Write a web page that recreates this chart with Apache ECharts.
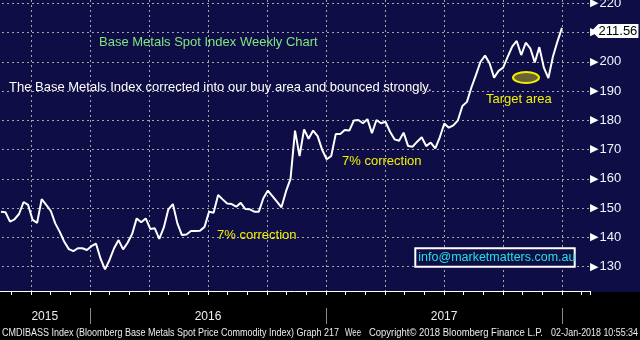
<!DOCTYPE html>
<html>
<head>
<meta charset="utf-8">
<script src="https://cdn.jsdelivr.net/npm/echarts@6/dist/echarts.min.js"></script>
<style>
html,body{margin:0;padding:0;background:#000;}
#c{width:640px;height:340px;}
</style>
</head>
<body>
<div id="c"></div>
<script>
// Weekly closes of the Bloomberg Base Metals Spot Index (mid-Aug 2015 .. 2 Jan 2018)
const indexValues = [
  148.8,148.6,145.4,146.2,148.0,152.1,151.1,146.0,145.0,153.1,151.1,149.1,144.8,141.9,138.5,136.0,135.3,
  136.3,136.3,135.7,137.0,137.9,132.8,129.1,132.3,136.3,139.1,135.9,138.2,141.2,146.5,145.2,146.5,142.9,
  143.1,139.5,143.4,149.6,151.4,144.8,140.8,141.0,142.2,142.2,142.3,143.6,148.8,148.4,154.5,153.0,151.6,
  151.4,150.5,151.8,149.7,149.6,148.8,148.8,153.4,156.0,154.1,152.2,150.3,155.7,160.0,176.5,167.8,176.9,
  173.7,176.5,174.6,169.9,166.7,167.8,175.3,175.3,176.7,176.5,179.9,180.1,179.0,180.4,175.6,180.1,179.0,
  179.5,176.1,173.5,173.0,175.8,171.2,171.0,172.7,174.2,171.2,172.4,170.4,174.2,
  178.9,177.5,178.3,180.0,184.9,186.3,191.3,195.5,200.0,202.1,199.5,194.6,196.9,198.0,201.7,205.2,207.1,
  202.3,206.5,204.6,199.8,205.0,198.0,194.4,201.7,206.9,211.56
];
// weeks after 1 Jul 2015 of the first weekly close
const firstWeek = 6.4;
const lastValue = 211.56;
// x axis: months after 1 Jul 2015
const monthAxisMax = 31.42;
const weekAxisMax = 136.6;
const yearLabels = ['2015', '2016', '2017'];
const yearLabelMonths = [3.7, 12, 24];
const yearBoundaryMonths = [6, 18, 30];
const yMin = 121.7, yMax = 221.1;

const NAVY = '#0f0d45';
const GRID = '#a6a6a6';
const FONT = '"Liberation Sans", Arial, sans-serif';

const mctx = document.createElement('canvas').getContext('2d');
function fitText(text, x, w, y) {
  const font = '10px ' + FONT;
  mctx.font = font;
  const m = mctx.measureText(text).width || w;
  return {type: 'text', x: x, y: y, scaleX: w / m, z: 100,
    style: {text: text, font: font, fill: '#ececec', verticalAlign: 'middle'}};
}
function label(text, x, y, fill, size) {
  return {type: 'text', x: x, y: y, z: 100,
    style: {text: text, font: (size || 13) + 'px ' + FONT, fill: fill, verticalAlign: 'middle'}};
}

const chart = echarts.init(document.getElementById('c'), null, {renderer: 'canvas'});
chart.setOption({
  animation: false,
  backgroundColor: {
    type: 'linear', x: 0, y: 0, x2: 0, y2: 1,
    colorStops: [
      {offset: 0, color: NAVY},
      {offset: 292 / 340, color: NAVY},
      {offset: 292 / 340, color: '#000'},
      {offset: 1, color: '#000'}
    ]
  },
  grid: {left: -28, right: 50, top: 0, bottom: 49, containLabel: false, outerBoundsMode: 'none'},
  xAxis: [
    {type: 'value', position: 'top', min: 0, max: weekAxisMax, show: false,
     splitLine: {show: false}, axisLine: {show: false}, axisTick: {show: false}, axisLabel: {show: false}},
    {type: 'value', position: 'bottom', min: 0, max: monthAxisMax, interval: 3,
     axisLine: {show: true, onZero: false, lineStyle: {color: '#fff', width: 1}},
     axisTick: {show: true, length: 4, lineStyle: {color: '#fff'}},
     minorTick: {show: true, splitNumber: 3, length: 4, lineStyle: {color: '#fff'}},
     axisLabel: {show: false},
     splitLine: {show: true, showMinLine: false, showMaxLine: false, lineStyle: {color: GRID, width: 1, type: [2, 3]}}},
    {type: 'value', position: 'bottom', offset: 17, min: 0, max: monthAxisMax,
     axisLine: {show: false, onZero: false},
     axisTick: {show: true, customValues: yearBoundaryMonths, length: 16, lineStyle: {color: '#8a8a8a'}},
     axisLabel: {show: true, customValues: yearLabelMonths, margin: 3, color: '#eeeeee', fontSize: 12, fontFamily: FONT,
       formatter: function (v) {
         for (let i = 0; i < yearLabelMonths.length; i++) if (Math.abs(yearLabelMonths[i] - v) < 0.01) return yearLabels[i];
         return '';
       }},
     splitLine: {show: false}}
  ],
  yAxis: {
    type: 'value', position: 'right', min: yMin, max: yMax, splitNumber: 10,
    axisLine: {show: true, lineStyle: {color: '#fff', width: 1}},
    axisTick: {show: false},
    minorTick: {show: true, splitNumber: 2, length: 4, lineStyle: {color: '#fff'}},
    axisLabel: {
      margin: 0, showMinLabel: false, showMaxLabel: false,
      formatter: function (v) { return '{t|\u25B6}{v|' + v + '}'; },
      rich: {
        t: {fontSize: 11, color: '#fff', fontFamily: '"DejaVu Sans"'},
        v: {fontSize: 13, color: '#f4f4ff', fontFamily: FONT, padding: [0, 0, 0, 1]}
      }
    },
    splitLine: {show: true, showMinLine: false, showMaxLine: false, lineStyle: {color: GRID, width: 1, type: [2, 3]}}
  },
  series: [{
    type: 'line', xAxisIndex: 0, yAxisIndex: 0,
    data: indexValues.map(function (v, i) { return [firstWeek + i, v]; }),
    symbol: 'none', showSymbol: false, z: 5,
    lineStyle: {color: '#ffffff', width: 2},
    markPoint: {
      symbol: 'path://M0,7L7,0L47,0L47,14L7,14Z',
      symbolSize: [47, 14], symbolOffset: [53, 3],
      itemStyle: {color: '#ffffff'},
      label: {show: true, color: '#000', fontSize: 13, fontFamily: FONT, offset: [3, 0], formatter: String(lastValue)},
      data: [{coord: [firstWeek + indexValues.length - 1, lastValue], value: lastValue}]
    }
  }],
  graphic: [
    label('Base Metals Spot Index Weekly Chart', 99, 42, '#7fe57f'),
    label('The Base Metals Index corrected into our buy area and bounced strongly.', 9, 87, '#ffffff'),
    label('7% correction', 217, 235, '#f2f200'),
    label('7% correction', 342, 161, '#f2f200'),
    label('Target area', 486, 99, '#f2f200'),
    {type: 'ellipse', z: 100, shape: {cx: 526, cy: 77.5, rx: 13, ry: 5.5},
     style: {fill: '#6b6432', stroke: '#f0f000', lineWidth: 2}},
    {type: 'rect', z: 100, shape: {x: 415.3, y: 248.3, width: 159.4, height: 18.4},
     style: {fill: NAVY, stroke: '#ffffff', lineWidth: 2}},
    label('info@marketmatters.com.au', 418.3, 257.5, '#22e0e0', 12.5),
    fitText('CMDIBASS Index (Bloomberg Base Metals Spot Price Commodity Index) Graph 217', 2, 337, 333),
    fitText('Wee', 345, 16, 333),
    fitText('Copyright\u00A9 2018 Bloomberg Finance L.P.', 369, 174, 333),
    fitText('02-Jan-2018 10:55:34', 551, 87, 333)
  ]
});
</script>
</body>
</html>
